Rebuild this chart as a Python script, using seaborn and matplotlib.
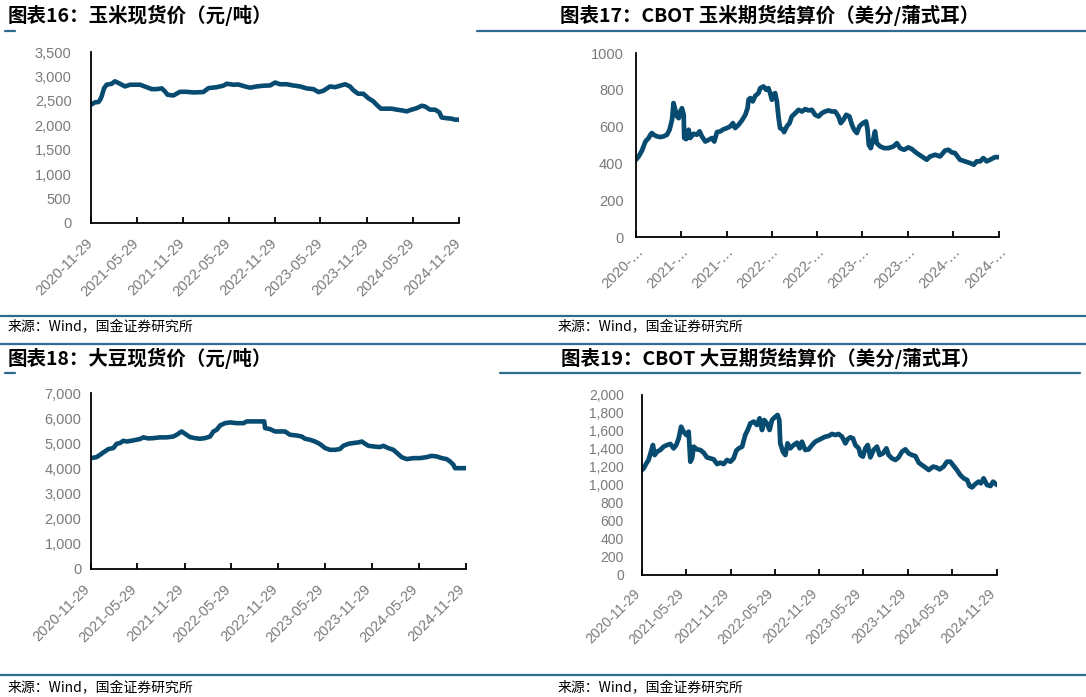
import pandas as pd
import matplotlib
matplotlib.use("Agg")
import matplotlib.pyplot as plt
import matplotlib.transforms as mtransforms
from matplotlib.lines import Line2D
from matplotlib.ticker import FuncFormatter
import seaborn as sns

# ---------------- data ----------------
START = "2020-11-29"
TICK_DATES = ["2020-11-29", "2021-05-29", "2021-11-29", "2022-05-29", "2022-11-29",
              "2023-05-29", "2023-11-29", "2024-05-29", "2024-11-29"]
TICK_LABELS_TRUNC = ["2020-…", "2021-…", "2021-…", "2022-…", "2022-…",
                     "2023-…", "2023-…", "2024-…", "2024-…"]

TITLES = ["图表16：玉米现货价（元/吨）",
          "图表17：CBOT 玉米期货结算价（美分/蒲式耳）",
          "图表18：大豆现货价（元/吨）",
          "图表19：CBOT 大豆期货结算价（美分/蒲式耳）"]
SOURCE = "来源：Wind，国金证券研究所"

# days after START
corn_spot_day = [0, 16, 29, 36, 42, 52, 62, 82, 95, 115, 135, 155, 195, 221, 241, 261, 281, 294,
                 304, 327, 353, 380, 406, 446, 466, 499, 525, 539, 565, 585, 611, 631, 658, 684,
                 711, 731, 750, 777, 803, 830, 856, 883, 903, 922, 949, 969, 989, 1009, 1028,
                 1042, 1061, 1081, 1101, 1121, 1134, 1151, 1174, 1194, 1214, 1234, 1253, 1273,
                 1293, 1313, 1326, 1346, 1366, 1383, 1392, 1412, 1432, 1445, 1461]
corn_spot_price = [2420, 2470, 2475, 2520, 2590, 2760, 2830, 2850, 2900, 2850, 2795, 2830, 2830,
                   2780, 2740, 2740, 2755, 2690, 2625, 2610, 2685, 2685, 2672, 2680, 2760, 2780,
                   2810, 2850, 2830, 2835, 2795, 2770, 2795, 2810, 2815, 2875, 2840, 2840, 2815,
                   2795, 2755, 2740, 2680, 2705, 2795, 2780, 2810, 2840, 2795, 2715, 2645, 2645,
                   2555, 2490, 2420, 2340, 2340, 2340, 2320, 2305, 2285, 2320, 2350, 2400, 2385,
                   2320, 2320, 2265, 2160, 2145, 2135, 2115, 2115]

corn_fut_day = [0, 11, 24, 38, 44, 51, 58, 64, 71, 84, 98, 111, 125, 135, 145, 151, 158, 165, 172,
                178, 185, 192, 194, 202, 212, 218, 232, 245, 256, 265, 279, 292, 306, 315, 326,
                339, 353, 366, 379, 390, 399, 413, 426, 440, 449, 453, 460, 470, 480, 493, 500,
                513, 524, 533, 540, 547, 554, 560, 567, 574, 580, 591, 596, 607, 618, 627, 641,
                654, 668, 681, 694, 708, 721, 735, 748, 761, 775, 788, 802, 815, 824, 835, 846,
                859, 869, 878, 889, 899, 913, 926, 932, 937, 945, 956, 962, 969, 983, 999, 1016,
                1036, 1050, 1063, 1079, 1096, 1110, 1130, 1150, 1170, 1184, 1204, 1224, 1244,
                1257, 1271, 1284, 1304, 1324, 1344, 1360, 1371, 1385, 1398, 1411, 1425, 1445, 1461]
corn_fut_price = [420, 438, 470, 519, 528, 538, 556, 565, 556, 547, 543, 547, 556, 583, 637, 728,
                  691, 655, 646, 682, 700, 664, 538, 532, 583, 538, 561, 556, 574, 547, 519, 528,
                  538, 519, 570, 574, 586, 592, 601, 619, 592, 610, 633, 664, 700, 746, 755, 737,
                  767, 782, 809, 818, 800, 809, 782, 746, 773, 782, 737, 646, 592, 583, 570, 601,
                  619, 655, 673, 691, 682, 695, 688, 691, 664, 655, 673, 682, 688, 682, 682, 655,
                  619, 637, 664, 655, 610, 583, 565, 601, 619, 628, 583, 501, 483, 538, 574, 510,
                  492, 483, 483, 492, 510, 483, 474, 487, 478, 456, 438, 420, 438, 447, 438, 470,
                  474, 460, 456, 420, 411, 402, 393, 411, 411, 429, 411, 420, 434, 434]

soy_spot_day = [0, 22, 35, 48, 68, 87, 100, 113, 126, 139, 165, 191, 204, 223, 243, 269, 295, 321,
                334, 353, 366, 386, 405, 425, 444, 464, 477, 490, 503, 522, 542, 568, 594, 607,
                632, 658, 675, 678, 697, 717, 736, 756, 775, 801, 821, 834, 853, 873, 892, 912,
                931, 951, 970, 983, 1003, 1022, 1042, 1055, 1068, 1081, 1100, 1126, 1139, 1158,
                1178, 1197, 1210, 1230, 1256, 1282, 1308, 1327, 1347, 1366, 1386, 1399, 1412,
                1418, 1438, 1461]
soy_spot_price = [4410, 4450, 4540, 4635, 4770, 4810, 4980, 5010, 5100, 5070, 5115, 5170, 5235,
                  5195, 5205, 5235, 5235, 5270, 5340, 5470, 5380, 5245, 5205, 5180, 5205, 5270,
                  5470, 5540, 5710, 5800, 5830, 5800, 5800, 5870, 5870, 5870, 5870, 5605, 5565,
                  5470, 5470, 5470, 5340, 5310, 5270, 5180, 5140, 5070, 4970, 4810, 4740, 4740,
                  4770, 4900, 4980, 5010, 5035, 5070, 4980, 4900, 4875, 4850, 4900, 4810, 4740,
                  4570, 4450, 4370, 4410, 4410, 4450, 4500, 4475, 4410, 4370, 4275, 4145, 4010,
                  4010, 4010]

soy_fut_day = [0, 7, 18, 27, 37, 45, 52, 62, 75, 89, 103, 117, 130, 141, 151, 161, 171, 182, 192,
               199, 206, 213, 226, 240, 254, 267, 281, 295, 309, 322, 336, 350, 364, 377, 388,
               398, 412, 425, 435, 446, 460, 473, 484, 494, 503, 514, 525, 535, 549, 558, 565,
               569, 580, 590, 599, 610, 624, 638, 649, 658, 672, 686, 700, 713, 727, 741, 754,
               768, 782, 796, 809, 823, 837, 846, 857, 868, 878, 892, 899, 909, 919, 929, 940,
               953, 967, 978, 992, 1006, 1015, 1029, 1043, 1056, 1070, 1084, 1097, 1111, 1125,
               1139, 1152, 1166, 1180, 1198, 1211, 1225, 1241, 1255, 1269, 1283, 1296, 1310,
               1324, 1338, 1348, 1358, 1372, 1385, 1395, 1406, 1420, 1434, 1445, 1461]
soy_fut_price = [1167, 1185, 1241, 1278, 1370, 1444, 1333, 1370, 1389, 1426, 1444, 1456, 1407,
                 1444, 1519, 1648, 1593, 1556, 1593, 1259, 1296, 1426, 1396, 1389, 1359, 1307,
                 1296, 1285, 1233, 1248, 1233, 1278, 1259, 1296, 1381, 1407, 1426, 1556, 1611,
                 1685, 1704, 1667, 1741, 1611, 1722, 1685, 1611, 1722, 1759, 1778, 1722, 1463,
                 1370, 1333, 1463, 1407, 1444, 1470, 1407, 1481, 1389, 1396, 1444, 1481, 1500,
                 1519, 1537, 1544, 1567, 1556, 1567, 1537, 1463, 1507, 1530, 1519, 1444, 1407,
                 1333, 1315, 1407, 1444, 1307, 1389, 1426, 1333, 1352, 1407, 1333, 1296, 1278,
                 1307, 1370, 1396, 1352, 1333, 1322, 1248, 1222, 1196, 1167, 1204, 1196, 1174,
                 1204, 1259, 1259, 1211, 1167, 1111, 1074, 1056, 989, 974, 1011, 1037, 1019,
                 1074, 1000, 989, 1037, 1000]

Y_TICKS = [list(range(0, 3501, 500)), list(range(0, 1001, 200)),
           list(range(0, 7001, 1000)), list(range(0, 2001, 200))]

# ---------------- style ----------------
W, H = 1086, 697
LINE = "#084b70"
RULE = "#2f6b91"
LABEL = "#7a7a7a"
CJK = ["Noto Sans CJK SC", "DejaVu Sans"]

sns.set_theme(style="white")
plt.rcParams["font.family"] = ["Liberation Sans", "Noto Sans CJK SC", "DejaVu Sans"]

fig = plt.figure(figsize=(W / 100, H / 100), dpi=100)
fig.patch.set_facecolor("white")


def px_axes(left, right, top, bottom):
    return fig.add_axes([left / W, 1 - bottom / H, (right - left) / W, (bottom - top) / H])


def make_df(days, vals):
    d = pd.Timestamp(START) + pd.to_timedelta(days, unit="D")
    return pd.DataFrame({"date": d, "value": vals})


panels = [
    # data, axes box (px), yticks, comma, tick labels, y pad, x pad, x offset(px), fontsize, lw
    (make_df(corn_spot_day, corn_spot_price), (91, 459, 52, 223), Y_TICKS[0], True, TICK_DATES, 14, 13, 0, 10.5, 3.3),
    (make_df(corn_fut_day, corn_fut_price), (636, 999, 53, 237), Y_TICKS[1], False, TICK_LABELS_TRUNC, 9, 9, 5, 10.5, 3.4),
    (make_df(soy_spot_day, soy_spot_price), (91, 466, 393, 569), Y_TICKS[2], True, TICK_DATES, 7, 13, -3, 10.5, 3.3),
    (make_df(soy_fut_day, soy_fut_price), (642, 997, 395, 575), Y_TICKS[3], True, TICK_DATES, 13, 12, -4, 10, 3.4),
]

x0 = pd.Timestamp(TICK_DATES[0])
x1 = pd.Timestamp(TICK_DATES[-1])

for df, box, yt, comma, xlabels, ypad, xpad, xoff, fs, lw in panels:
    ax = px_axes(*box)
    sns.lineplot(data=df, x="date", y="value", ax=ax, color=LINE, linewidth=lw, legend=False)
    ax.set_xlim(x0, x1)
    ax.set_ylim(yt[0], yt[-1])
    ax.set_yticks(yt)
    if comma:
        ax.yaxis.set_major_formatter(FuncFormatter(lambda v, p: f"{int(v):,}"))
    else:
        ax.yaxis.set_major_formatter(FuncFormatter(lambda v, p: f"{int(v)}"))
    ax.set_xticks(pd.to_datetime(TICK_DATES))
    ax.set_xticklabels(xlabels)
    ax.set_xlabel("")
    ax.set_ylabel("")
    ax.set_facecolor("white")
    for s in ["top", "right"]:
        ax.spines[s].set_visible(False)
    for s in ["left", "bottom"]:
        ax.spines[s].set_color("black")
        ax.spines[s].set_linewidth(1.3)
    ax.tick_params(axis="x", direction="in", length=4, width=1.3, color="black",
                   pad=xpad, labelsize=fs, labelcolor=LABEL, bottom=True)
    ax.tick_params(axis="y", length=0, pad=ypad, labelsize=fs, labelcolor=LABEL)
    offset = mtransforms.ScaledTranslation(xoff / 100, 0, fig.dpi_scale_trans)
    for lbl in ax.get_xticklabels():
        lbl.set_rotation(45)
        lbl.set_ha("right")
        lbl.set_va("center")
        lbl.set_rotation_mode("anchor")
        lbl.set_transform(lbl.get_transform() + offset)
    ax.grid(False)

# titles
for (tx, ty), t in zip([(8, 15), (560, 15), (8, 358), (561, 358)], TITLES):
    fig.text(tx / W, 1 - ty / H, t, fontsize=14, fontweight="bold", ha="left", va="center",
             family=CJK, color="black")

# source notes
for sx, sy in [(8, 327), (558, 327), (8, 688), (558, 688)]:
    fig.text(sx / W, 1 - sy / H, SOURCE, fontsize=10, ha="left", va="center", family=CJK,
             color="black")

# horizontal rules
rules = [(5, 15, 31), (477, 1086, 31), (0, 1086, 316), (0, 1086, 344),
         (5, 15, 373), (500, 1080, 373), (0, 1086, 675)]
for a, b, y in rules:
    fig.add_artist(Line2D([a / W, b / W], [1 - y / H, 1 - y / H], transform=fig.transFigure,
                          color=RULE, linewidth=1.6))

fig.savefig("out.png", dpi=100)
